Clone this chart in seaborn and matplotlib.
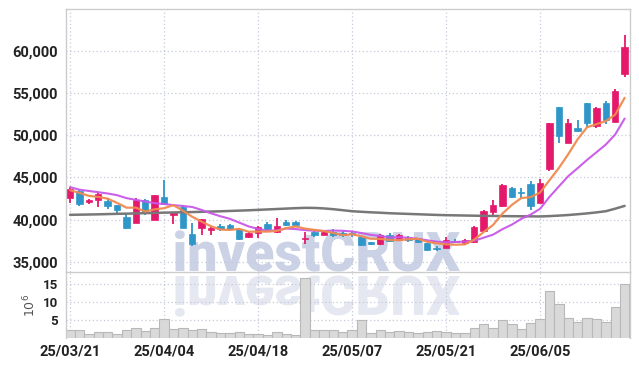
import numpy as np
import pandas as pd
import matplotlib
matplotlib.use("Agg")
import matplotlib.pyplot as plt
import seaborn as sns
from matplotlib.textpath import TextPath
from matplotlib.patches import PathPatch
from matplotlib.font_manager import FontProperties
from matplotlib.transforms import Affine2D, IdentityTransform
from matplotlib.ticker import FuncFormatter

# ---------------- data ----------------
tick_labels = ["25/03/21", "25/04/04", "25/04/18", "25/05/07", "25/05/21", "25/06/05"]
tick_pos = [0, 10, 20, 30, 40, 50]

opens = [42580, 43410, 42070, 42310, 42230, 41710, 40330, 39660, 42310, 39970,
         42630, 40500, 41510, 38270, 39030, 38750, 39230, 39310, 38950, 37890,
         38360, 39430, 38560, 39740, 39740, 37700, 38560, 38240, 38480, 38360,
         38380, 37970, 37300, 37100, 38160, 37570, 37770, 37770, 37180, 36650,
         36700, 37490, 37250, 37370, 38670, 40920, 41590, 43770, 43300, 44280,
         42030, 45950, 53290, 49100, 50870, 53800, 51110, 53800, 51590, 57240]
highs = [43880, 43500, 42400, 43100, 42510, 41750, 40730, 42510, 42400, 42950,
         44720, 40900, 41710, 39620, 40100, 39200, 39500, 39500, 39000, 38500,
         39200, 39700, 40140, 39900, 39850, 38480, 38700, 38700, 38900, 38700,
         38600, 38100, 37350, 38250, 38450, 38300, 38050, 37850, 37250, 36900,
         37900, 37700, 37700, 39250, 41200, 42310, 44250, 43900, 43700, 44550,
         44800, 51500, 53300, 51950, 51850, 53850, 53300, 54050, 55420, 61860]
lows = [41950, 41600, 41800, 41520, 41210, 40530, 38950, 39600, 40600, 39900,
        41750, 39540, 39000, 36900, 38240, 38240, 38700, 38800, 37600, 37800,
        37800, 38800, 38360, 39300, 39300, 37170, 38000, 38150, 37900, 38000,
        37950, 36900, 36950, 37000, 37350, 37450, 37300, 37200, 36300, 36300,
        36650, 37200, 37000, 37250, 38600, 40330, 41550, 42600, 42450, 41200,
        41950, 45750, 49030, 49050, 50400, 50900, 50850, 51300, 51550, 56850]
closes = [43610, 41870, 42310, 43020, 41630, 41120, 39030, 42310, 40730, 42900,
          41800, 40840, 39070, 37100, 40020, 39070, 38870, 38870, 37680, 38360,
          39150, 38870, 39270, 39350, 39350, 37850, 38130, 38560, 38200, 38130,
          38300, 36990, 37060, 38160, 37450, 38160, 37570, 37330, 36390, 36550,
          37570, 37300, 37570, 39150, 41080, 41710, 44090, 42700, 43200, 41670,
          44360, 51400, 49930, 51400, 50520, 51470, 53210, 51790, 55220, 60470]
volume_m = [2.2, 2.2, 1.1, 1.6, 1.6, 1.1, 2.2, 2.9, 1.9, 2.7,
            5.2, 2.5, 2.9, 2.3, 2.5, 1.6, 1.4, 1.4, 1.6, 1.1,
            1.1, 0.7, 1.6, 1.1, 0.7, 16.7, 2.2, 2.2, 2.2, 1.6,
            2.2, 4.9, 1.3, 2.2, 1.6, 2.0, 1.6, 1.4, 1.7, 2.0,
            1.7, 1.4, 1.4, 2.9, 3.8, 2.9, 5.0, 3.8, 2.5, 4.1,
            5.4, 13.1, 9.3, 5.6, 4.5, 5.6, 5.2, 4.5, 8.6, 15.0]
ma5 = [43490, 43170, 42820, 42700, 42488, 41990, 41422, 41422, 40964, 41218,
       41354, 41716, 41068, 40342, 39766, 39220, 38826, 38786, 38902, 38570,
       38586, 38586, 38666, 39000, 39198, 38938, 38790, 38648, 38418, 38174,
       38264, 38036, 37736, 37728, 37592, 37564, 37680, 37734, 37380, 37200,
       37082, 37028, 37076, 37628, 38534, 39362, 40720, 41746, 42556, 42674,
       43204, 44666, 46112, 47752, 49522, 50944, 51306, 51678, 52442, 54432]
ma10 = [43850, 43550, 43400, 43250, 43100, 42900, 42550, 42350, 42150, 41950,
        41850, 41720, 41620, 41500, 41150, 40750, 40400, 40100, 39650, 39200,
        38903, 38706, 38726, 38951, 38884, 38762, 38688, 38657, 38709, 38686,
        38601, 38413, 38192, 38073, 37883, 37914, 37858, 37735, 37554, 37396,
        37323, 37354, 37405, 37504, 37867, 38222, 38874, 39411, 40092, 40604,
        41283, 42693, 43929, 45154, 46098, 47074, 47986, 48895, 50097, 51977]
ma60 = [40570, 40590, 40610, 40630, 40660, 40690, 40710, 40740, 40770, 40800,
        40830, 40850, 40880, 40900, 40930, 40960, 40990, 41030, 41070, 41110,
        41160, 41210, 41260, 41310, 41360, 41400, 41390, 41330, 41240, 41120,
        41000, 40930, 40870, 40820, 40760, 40720, 40680, 40640, 40600, 40560,
        40530, 40510, 40490, 40470, 40450, 40440, 40420, 40410, 40400, 40390,
        40380, 40420, 40480, 40550, 40640, 40740, 40860, 41000, 41300, 41630]

# ---------------- style ----------------
sns.set_theme(style="white")
plt.rcParams['font.family'] = ['Roboto', 'Liberation Sans', 'DejaVu Sans']

UP = "#e5196b"
DOWN = "#2f96c9"
GRID = "#c6cadb"
SPINE = "#cccccc"

W, H = 639, 366
fig = plt.figure(figsize=(W / 100, H / 100), dpi=100)
fig.patch.set_facecolor("white")

L, R = 66, 630
T, MID, B = 9, 272, 338
ax = fig.add_axes([L / W, 1 - MID / H, (R - L) / W, (MID - T) / H])
axv = fig.add_axes([L / W, 1 - B / H, (R - L) / W, (B - MID) / H], sharex=ax)

idx = np.arange(len(closes))
o = np.array(opens, float)
c = np.array(closes, float)
hi = np.array(highs, float)
lo = np.array(lows, float)
up = c >= o
cols = np.where(up, UP, DOWN)

# ---- watermark ----
fp = FontProperties(family=['Roboto', 'Liberation Sans'], weight=900)
tp = TextPath((0, 0), "investCRUX", size=1, prop=fp)
ext = tp.get_extents()
capp = TextPath((0, 0), "C", size=1, prop=fp).get_extents()
wm_w, wm_cap = 285.0, 40.0
sx = wm_w / ext.width
sy = wm_cap / capp.height
x0 = 175 - ext.x0 * sx
base_y = H - MID  # baseline in display coords
wm = PathPatch(tp, transform=Affine2D().scale(sx, sy).translate(x0, base_y + 1) + IdentityTransform(),
               facecolor="#cbd2e6", edgecolor="none", zorder=0.5)
ax.add_patch(wm)
wm2 = PathPatch(tp, transform=Affine2D().scale(sx, -sy).translate(x0, base_y - 4) + IdentityTransform(),
                facecolor="#e5e8f1", edgecolor="none", zorder=0.5)
axv.add_patch(wm2)

# ---- candles ----
ax.vlines(idx, lo, hi, colors=cols, linewidth=1.3, zorder=3)
body_h = np.maximum(np.abs(c - o), 160)
body_b = np.minimum(o, c) - np.where(np.abs(c - o) < 160, (160 - np.abs(c - o)) / 2, 0)
ax.bar(idx, body_h, bottom=body_b, width=0.68, color=cols, edgecolor=cols, linewidth=0.5, zorder=3.2)

# ---- moving averages ----
df = pd.DataFrame({"i": idx, "ma5": ma5, "ma10": ma10, "ma60": ma60})
sns.lineplot(data=df, x="i", y="ma60", ax=ax, color="#787878", linewidth=1.8, zorder=4)
sns.lineplot(data=df, x="i", y="ma10", ax=ax, color="#c957e8", linewidth=1.5, zorder=4.1, alpha=0.95)
sns.lineplot(data=df, x="i", y="ma5", ax=ax, color="#f08a50", linewidth=1.6, zorder=4.2, alpha=0.95)

# ---- volume ----
dv = pd.DataFrame({"i": idx, "v": volume_m})
sns.barplot(data=dv, x="i", y="v", ax=axv, native_scale=True, color="#d9d9d9",
            edgecolor="#b8b8b8", linewidth=0.8, width=1.0, errorbar=None, saturation=1, zorder=2)

# ---- axes formatting ----
ax.set_xlim(-0.43, 59.57)
ax.set_ylim(33800, 64950)
axv.set_ylim(0, 18.3)
ax.set_yticks([35000, 40000, 45000, 50000, 55000, 60000])
ax.yaxis.set_major_formatter(FuncFormatter(lambda v, p: f"{int(v):,}"))
axv.set_yticks([5, 10, 15])
axv.set_yticklabels(["5", "10", "15"])
axv.set_xticks(tick_pos)
axv.set_xticklabels(tick_labels)
ax.tick_params(axis="x", labelbottom=False, length=0)
ax.tick_params(axis="y", length=0, pad=6, labelsize=10.5, labelcolor="#222222")
axv.tick_params(axis="y", length=0, pad=6, labelsize=9.5, labelcolor="#222222")
axv.tick_params(axis="x", length=0, pad=5, labelsize=10.5, labelcolor="#222222")
for lab in ax.get_yticklabels() + axv.get_yticklabels() + axv.get_xticklabels():
    lab.set_fontweight("bold")
ax.set_xlabel("")
ax.set_ylabel("")
axv.set_xlabel("")
axv.set_ylabel("$10^6$", fontsize=9, color="#555555", family="DejaVu Sans", labelpad=3)

for a in (ax, axv):
    a.set_facecolor("none")
    a.grid(True, which="major", axis="both", color=GRID, linestyle=(0, (1, 2)), linewidth=0.9)
    a.set_axisbelow(True)
    for s in a.spines.values():
        s.set_color(SPINE)
        s.set_linewidth(1.0)
axv.spines["bottom"].set_visible(False)
axv.spines["top"].set_visible(False)

fig.savefig("out.png", dpi=100, facecolor="white")
